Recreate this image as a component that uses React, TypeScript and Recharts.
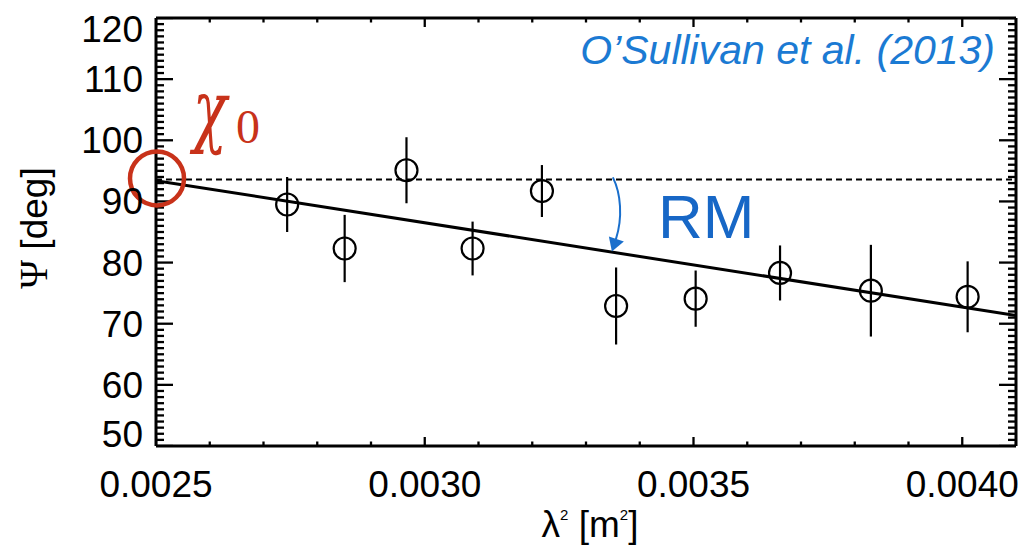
import {
  ComposedChart,
  ErrorBar,
  Line,
  ReferenceDot,
  ReferenceLine,
  Scatter,
  XAxis,
  YAxis,
} from "recharts";

const lam2 = [0.002744, 0.002851, 0.002966, 0.003089, 0.003218, 0.003356, 0.003504, 0.003661, 0.00383, 0.00401];
const psi = [89.5, 82.3, 95.1, 82.3, 91.7, 72.9, 74.1, 78.3, 75.4, 74.4];
const psiErr = [4.5, 5.5, 5.4, 4.4, 4.25, 6.3, 4.6, 4.5, 7.5, 5.8];

// straight RM fit, psi = chi0 + RM * lam2
const fitLam2 = [0.0025, 0.0041];
const fitPsi = [93.4, 71.35];
const chi0 = 93.6;

const xDomain = [0.0025, 0.0041];
const yDomain = [50, 120];
const xMajor = [0.0025, 0.003, 0.0035, 0.004];
const xTicks = [25, 26, 27, 28, 29, 30, 31, 32, 33, 34, 35, 36, 37, 38, 39, 40, 41].map((i) => i / 10000);
const yMajor = [50, 60, 70, 80, 90, 100, 110, 120];
const yTicks: number[] = [];
for (let v = 50; v <= 120; v++) yTicks.push(v);

const points = lam2.map((x, i) => ({ lam2: x, psi: psi[i], err: psiErr[i] }));
const fitLine = fitLam2.map((x, i) => ({ lam2: x, psi: fitPsi[i] }));

const W = 1026;
const H = 546;
const PLOT_W = 860;
const PLOT_H = 428;

const SANS = "'Liberation Sans', Arial, Helvetica, sans-serif";
const SERIF = "'Liberation Serif', 'Times New Roman', serif";
const BLUE = "#1b7ad3";
const RED = "#c8321a";

const isMajorX = (v: number) => xMajor.some((m) => Math.abs(m - v) < 1e-9);

function BottomTick({ x, y, payload }: any) {
  if (!isMajorX(payload.value)) return <g />;
  return (
    <text x={x} y={y + 51} textAnchor="middle" fontSize={37} fontFamily={SANS} fill="#000">
      {payload.value.toFixed(4)}
    </text>
  );
}

function LeftTick({ x, y, payload }: any) {
  const v = payload.value;
  if (!yMajor.includes(v)) return <g />;
  const dy = v === 120 ? 24 : v === 50 ? 1 : 13;
  return (
    <text x={x - 13} y={y + dy} textAnchor="end" fontSize={37} fontFamily={SANS} fill="#000">
      {v}
    </text>
  );
}

const renderXLabel = ({ viewBox }: any) => (
  <text
    x={viewBox.x + viewBox.width / 2 + 4}
    y={viewBox.y + 91}
    textAnchor="middle"
    fontSize={37}
    fontFamily={SANS}
    fill="#000"
  >
    λ
    <tspan fontSize={15} dy={-17}>2</tspan>
    <tspan fontSize={37} dy={17}> [m</tspan>
    <tspan fontSize={15} dy={-17}>2</tspan>
    <tspan fontSize={37} dy={17}>]</tspan>
  </text>
);

const renderYLabel = ({ viewBox }: any) => {
  const x = viewBox.x + 47;
  const y = viewBox.y + 210;
  return (
    <text
      x={x}
      y={y}
      transform={`rotate(-90 ${x} ${y})`}
      textAnchor="middle"
      fontSize={37}
      fontFamily={SANS}
      fill="#000"
    >
      <tspan fontFamily={SERIF} fontSize={39}>Ψ</tspan> [deg]
    </text>
  );
};

const Circle = ({ cx, cy }: any) => (
  <circle cx={cx} cy={cy} r={11} fill="none" stroke="#000" strokeWidth={2.2} />
);

const Chi0Mark = ({ cx, cy }: any) => (
  <g>
    <circle cx={cx + 1} cy={cy - 1} r={27} fill="none" stroke={RED} strokeWidth={4.5} />
    {/* narrow, tall chi: squeeze horizontally */}
    <text
      transform={`translate(${cx + 37} ${cy - 42}) scale(0.7 1)`}
      fontSize={80}
      fontStyle="italic"
      fontFamily="'DejaVu Serif', serif"
      fill={RED}
    >
      χ
    </text>
    <text x={cx + 80} y={cy - 36} fontSize={48} fontFamily={SERIF} fill={RED}>
      0
    </text>
  </g>
);

const RmMark = ({ cx, cy }: any) => (
  <g>
    <path
      d={`M ${cx} ${cy - 2} C ${cx + 8} ${cy + 14}, ${cx + 10} ${cy + 38}, ${cx + 3} ${cy + 60}`}
      fill="none"
      stroke="#1a6fcc"
      strokeWidth={2}
    />
    <path
      d={`M ${cx - 4} ${cy + 57} L ${cx + 11} ${cy + 62} L ${cx - 1} ${cy + 72} Z`}
      fill="#1a6fcc"
    />
    <text x={cx + 45} y={cy + 59} fontSize={62} fontFamily={SANS} fill="#1767c6">
      RM
    </text>
  </g>
);

const Citation = ({ cx, cy }: any) => (
  <text
    x={cx - 21}
    y={cy + 46}
    textAnchor="end"
    fontSize={41}
    fontStyle="italic"
    fontFamily={SANS}
    fill={BLUE}
  >
    O’Sullivan et al. (2013)
  </text>
);

// inward ticks on all four sides, drawn as one Scatter with a custom shape
const tickPoints: any[] = [];
yTicks.forEach((v) => {
  const major = yMajor.includes(v);
  tickPoints.push({ lam2: xDomain[0], psi: v, dx: major ? 17 : 8, dy: 0 });
  tickPoints.push({ lam2: xDomain[1], psi: v, dx: major ? -17 : -8, dy: 0 });
});
xTicks.forEach((v) => {
  const major = isMajorX(v);
  tickPoints.push({ lam2: v, psi: yDomain[0], dx: 0, dy: major ? -9 : -4.5 });
  tickPoints.push({ lam2: v, psi: yDomain[1], dx: 0, dy: major ? 9 : 4.5 });
});

const TickMark = ({ cx, cy, payload }: any) => (
  <line x1={cx} y1={cy} x2={cx + payload.dx} y2={cy + payload.dy} stroke="#000" strokeWidth={2.3} />
);

export default function App() {
  const axisLine = { stroke: "#000", strokeWidth: 3 };
  return (
    <div style={{ position: "absolute", left: 0, top: 0, background: "#fff" }}>
      <ComposedChart width={W} height={H} margin={{ top: 0, right: 0, bottom: 0, left: 0 }}>
        <XAxis
          xAxisId="bottom"
          dataKey="lam2"
          type="number"
          domain={xDomain}
          allowDataOverflow
          ticks={xTicks}
          interval={0}
          height={H - 18 - PLOT_H}
          tickSize={0}
          tickMargin={0}
          tickLine={false}
          tick={BottomTick}
          axisLine={axisLine}
          label={renderXLabel}
        />
        <XAxis
          xAxisId="top"
          orientation="top"
          type="number"
          domain={xDomain}
          allowDataOverflow
          height={18}
          tick={false}
          tickLine={false}
          axisLine={axisLine}
        />
        <YAxis
          yAxisId="left"
          dataKey="psi"
          type="number"
          domain={yDomain}
          allowDataOverflow
          ticks={yTicks}
          interval={0}
          width={156}
          tickSize={0}
          tickMargin={0}
          tickLine={false}
          tick={LeftTick}
          axisLine={axisLine}
          label={renderYLabel}
        />
        <YAxis
          yAxisId="right"
          orientation="right"
          type="number"
          domain={yDomain}
          allowDataOverflow
          width={W - 156 - PLOT_W}
          tick={false}
          tickLine={false}
          axisLine={axisLine}
        />
        <Scatter
          xAxisId="bottom"
          yAxisId="left"
          data={tickPoints}
          dataKey="psi"
          shape={TickMark}
          isAnimationActive={false}
        />
        <ReferenceLine
          xAxisId="bottom"
          yAxisId="left"
          y={chi0}
          stroke="#000"
          strokeWidth={2}
          strokeDasharray="6 4"
        />
        <Line
          xAxisId="bottom"
          yAxisId="left"
          data={fitLine}
          dataKey="psi"
          type="linear"
          stroke="#000"
          strokeWidth={3}
          dot={false}
          activeDot={false}
          isAnimationActive={false}
        />
        <Scatter
          xAxisId="bottom"
          yAxisId="left"
          data={points}
          dataKey="psi"
          shape={Circle}
          isAnimationActive={false}
        >
          <ErrorBar dataKey="err" direction="y" width={0} stroke="#000" strokeWidth={2.2} />
        </Scatter>
        <ReferenceDot
          xAxisId="bottom"
          yAxisId="left"
          x={0.0025}
          y={chi0}
          ifOverflow="visible"
          shape={Chi0Mark}
        />
        <ReferenceDot
          xAxisId="bottom"
          yAxisId="left"
          x={0.00335}
          y={chi0}
          ifOverflow="visible"
          shape={RmMark}
        />
        <ReferenceDot
          xAxisId="bottom"
          yAxisId="left"
          x={0.0041}
          y={120}
          ifOverflow="visible"
          shape={Citation}
        />
      </ComposedChart>
    </div>
  );
}
